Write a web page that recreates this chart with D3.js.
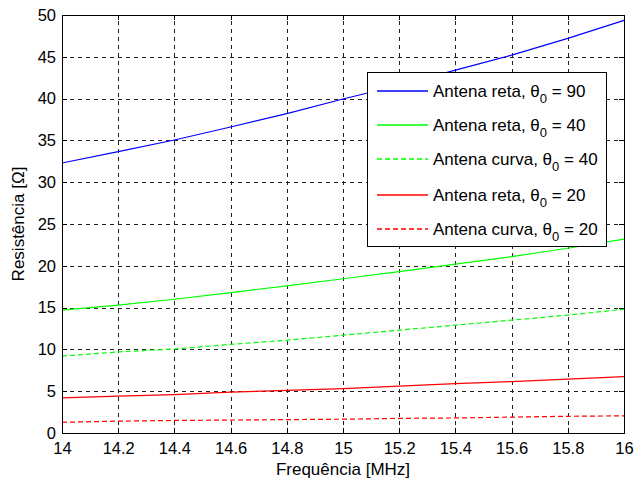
<!DOCTYPE html>
<html>
<head>
<meta charset="utf-8">
<script src="https://cdn.jsdelivr.net/npm/d3@7"></script>
<style>
  body { margin: 0; background: #fff; }
  svg { display: block; font-family: "Liberation Sans", Arial, sans-serif; }
  .grid line { stroke: #222; stroke-dasharray: 4,4; stroke-width: 1; shape-rendering: crispEdges; }
  .grid .domain { display: none; }
  .axis text { fill: #000; font-size: 16.5px; }
  .axis line { stroke: #000; shape-rendering: crispEdges; }
  .axis .domain { display: none; }
</style>
</head>
<body>
<div id="chart"></div>
<script>
// frequency samples (MHz)
const freq = [14, 14.2, 14.4, 14.6, 14.8, 15, 15.2, 15.4, 15.6, 15.8, 16];

// resistance readings (ohm)
const reta90  = [32.3, 33.65, 35.05, 36.6, 38.2, 39.95, 41.6, 43.4, 45.2, 47.2, 49.35];
const reta40  = [14.7, 15.3, 16.0, 16.8, 17.6, 18.45, 19.3, 20.2, 21.1, 22.1, 23.2];
const curva40 = [9.2, 9.7, 10.05, 10.6, 11.1, 11.7, 12.3, 12.9, 13.5, 14.1, 14.8];
const reta20  = [4.2, 4.4, 4.6, 4.9, 5.1, 5.3, 5.6, 5.9, 6.15, 6.45, 6.75];
const curva20 = [1.28, 1.42, 1.5, 1.55, 1.6, 1.65, 1.75, 1.8, 1.9, 2.0, 2.05];

const xTicks = [14, 14.2, 14.4, 14.6, 14.8, 15, 15.2, 15.4, 15.6, 15.8, 16];
const yTicks = [0, 5, 10, 15, 20, 25, 30, 35, 40, 45, 50];

const series = [
  { label: "Antena reta, ", theta: "90", values: reta90,  color: "#0000ff", dash: null },
  { label: "Antena reta, ", theta: "40", values: reta40,  color: "#00ff00", dash: null },
  { label: "Antena curva, ", theta: "40", values: curva40, color: "#00ff00", dash: "5,3" },
  { label: "Antena reta, ", theta: "20", values: reta20,  color: "#ff0000", dash: null },
  { label: "Antena curva, ", theta: "20", values: curva20, color: "#ff0000", dash: "5,3" }
];

const W = 635, H = 480;
const margin = { top: 15, right: 11, bottom: 47, left: 62 };
const iw = W - margin.left - margin.right,
      ih = H - margin.top - margin.bottom;

const x = d3.scaleLinear().domain([14, 16]).range([margin.left, margin.left + iw]);
const y = d3.scaleLinear().domain([0, 50]).range([margin.top + ih, margin.top]);

const svg = d3.select("#chart").append("svg")
  .attr("width", W).attr("height", H);

svg.append("rect").attr("width", W).attr("height", H).attr("fill", "#fff");

// grid
svg.append("g").attr("class", "grid")
  .attr("transform", `translate(0,${margin.top + ih})`)
  .call(d3.axisBottom(x).tickValues(xTicks).tickSize(-ih).tickFormat(""));
svg.append("g").attr("class", "grid")
  .attr("transform", `translate(${margin.left},0)`)
  .call(d3.axisLeft(y).tickValues(yTicks).tickSize(-iw).tickFormat(""));

// axes with inward ticks
svg.append("g").attr("class", "axis")
  .attr("transform", `translate(0,${margin.top + ih})`)
  .call(d3.axisBottom(x).tickValues(xTicks).tickSizeInner(-5).tickSizeOuter(0).tickPadding(9)
    .tickFormat(d3.format("")));
svg.append("g").attr("class", "axis")
  .attr("transform", `translate(${margin.left},0)`)
  .call(d3.axisLeft(y).tickValues(yTicks).tickSizeInner(-5).tickSizeOuter(0).tickPadding(6)
    .tickFormat(d3.format("d")));
svg.append("g").attr("class", "axis")
  .attr("transform", `translate(0,${margin.top})`)
  .call(d3.axisTop(x).tickValues(xTicks).tickSizeInner(-5).tickSizeOuter(0).tickFormat(""));
svg.append("g").attr("class", "axis")
  .attr("transform", `translate(${margin.left + iw},0)`)
  .call(d3.axisRight(y).tickValues(yTicks).tickSizeInner(-5).tickSizeOuter(0).tickFormat(""));

// lines
const line = d3.line().x((d, i) => x(freq[i])).y(d => y(d));
series.forEach(s => {
  svg.append("path")
    .attr("d", line(s.values))
    .attr("fill", "none")
    .attr("stroke", s.color)
    .attr("stroke-width", 1.2)
    .attr("stroke-dasharray", s.dash);
});

// box
svg.append("rect")
  .attr("x", margin.left).attr("y", margin.top)
  .attr("width", iw).attr("height", ih)
  .attr("fill", "none").attr("stroke", "#000").attr("stroke-width", 1)
  .attr("shape-rendering", "crispEdges");

// axis labels
svg.append("text")
  .attr("x", x(15)).attr("y", 475)
  .attr("text-anchor", "middle")
  .style("font-size", "17px")
  .text("Frequência [MHz]");
svg.append("text")
  .attr("transform", `translate(24,${margin.top + ih / 2}) rotate(-90)`)
  .attr("text-anchor", "middle")
  .style("font-size", "17px")
  .text("Resistência [Ω]");

// legend
const lg = svg.append("g").attr("transform", "translate(367,72)");
lg.append("rect")
  .attr("width", 239).attr("height", 174)
  .attr("fill", "#fff").attr("stroke", "#000").attr("stroke-width", 1)
  .attr("shape-rendering", "crispEdges");
const rowY = [19, 53, 87, 123, 157];
series.forEach((s, i) => {
  const ry = rowY[i];
  lg.append("line")
    .attr("x1", 10).attr("x2", 61).attr("y1", ry).attr("y2", ry)
    .attr("stroke", s.color).attr("stroke-width", 1.3)
    .attr("stroke-dasharray", s.dash);
  const t = lg.append("text")
    .attr("x", 66).attr("y", ry + 6)
    .style("font-size", "17px");
  t.append("tspan").text(s.label + "θ");
  t.append("tspan").attr("dy", 6).style("font-size", "13px").text("0");
  t.append("tspan").attr("dy", -6).text(" = " + s.theta);
});
</script>
</body>
</html>
